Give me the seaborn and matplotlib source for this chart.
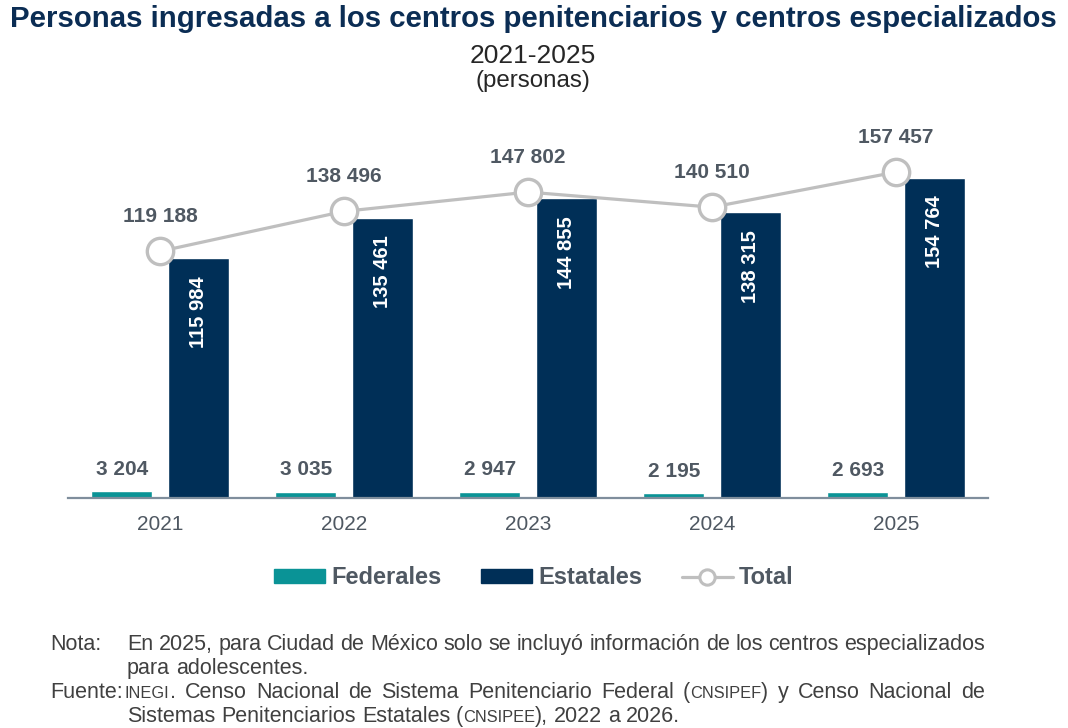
import matplotlib
matplotlib.use("Agg")
import matplotlib.pyplot as plt
import numpy as np
import pandas as pd
import seaborn as sns
from matplotlib.lines import Line2D
from matplotlib.patches import Patch

years = ["2021", "2022", "2023", "2024", "2025"]
federales = [3204, 3035, 2947, 2195, 2693]
estatales = [115984, 135461, 144855, 138315, 154764]
total = [119188, 138496, 147802, 140510, 157457]

series_names = ["Federales", "Estatales"]
series_colors = ["#0A9396", "#002F57"]
total_color = "#BFBFBF"
label_color = "#4F5862"
title_color = "#0B2D54"
note_color = "#404040"

sns.set_style("white")
plt.rcParams["font.family"] = ["Liberation Sans", "DejaVu Sans"]


def fmt(v):
    return f"{v:,}".replace(",", " ")


df = pd.DataFrame({
    "year": years * 2,
    "serie": [series_names[0]] * len(years) + [series_names[1]] * len(years),
    "value": federales + estatales,
})

fig = plt.figure(figsize=(10.68, 7.28), dpi=100)
ax = fig.add_axes([0.0637, 0.316, 0.8614, 0.533])

sns.barplot(data=df, x="year", y="value", hue="serie", order=years,
            hue_order=series_names, palette=series_colors, width=0.83,
            gap=0.2, saturation=1, legend=False, ax=ax, zorder=2)

xpos = np.arange(len(years))
sns.lineplot(x=xpos, y=total, color=total_color, linewidth=2.3, marker="o",
             markersize=19, markerfacecolor="white", markeredgecolor=total_color,
             markeredgewidth=2.4, zorder=5, ax=ax)

ax.set_xlim(-0.5, len(years) - 0.5)
ax.set_ylim(0, 187500)
ax.set_xlabel("")
ax.set_ylabel("")
ax.set_yticks([])
for s in ["top", "right", "left"]:
    ax.spines[s].set_visible(False)
ax.spines["bottom"].set_color("#7F8E9C")
ax.spines["bottom"].set_linewidth(1.6)
ax.spines["bottom"].set_zorder(6)
ax.tick_params(axis="x", length=0, pad=12, labelsize=15, labelcolor=label_color)

# value labels
for bar, v in zip(ax.containers[0], federales):
    cx = bar.get_x() + bar.get_width() / 2
    ax.annotate(fmt(v), (cx, bar.get_height()), xytext=(0, 12),
                textcoords="offset points", ha="center", va="baseline",
                fontsize=15, fontweight="bold", color=label_color)

for bar, v in zip(ax.containers[1], estatales):
    cx = bar.get_x() + bar.get_width() / 2
    ax.annotate(fmt(v), (cx, bar.get_height()), xytext=(0, -13),
                textcoords="offset points", ha="center", va="top",
                rotation=90, fontsize=14.5, fontweight="bold", color="white",
                zorder=4)

for x, v in zip(xpos, total):
    ax.annotate(fmt(v), (x, v), xytext=(0, 21), textcoords="offset points",
                ha="center", va="baseline", fontsize=15, fontweight="bold",
                color=label_color)

# titles
fig.text(0.499, 1 - 27 / 728, "Personas ingresadas a los centros penitenciarios y centros especializados",
         ha="center", va="baseline", fontsize=21.2, fontweight="bold", color=title_color)
fig.text(0.499, 1 - 63 / 728, "2021-2025", ha="center", va="baseline",
         fontsize=19, color="#262626")
fig.text(0.499, 1 - 87 / 728, "(personas)", ha="center", va="baseline",
         fontsize=17.4, color="#262626")

# legend
handles = [
    Patch(facecolor=series_colors[0], edgecolor=series_colors[0]),
    Patch(facecolor=series_colors[1], edgecolor=series_colors[1]),
    Line2D([], [], color=total_color, linewidth=2.3, marker="o", markersize=11,
           markerfacecolor="white", markeredgecolor=total_color, markeredgewidth=2.2),
]
leg = fig.legend(handles, ["Federales", "Estatales", "Total"], loc="center",
                 bbox_to_anchor=(0.5, 1 - 578 / 728), ncol=3, frameon=False,
                 prop={"size": 17, "weight": "bold"}, handlelength=2.16,
                 handleheight=0.5, handletextpad=0.28, columnspacing=1.65)
for t in leg.get_texts():
    t.set_color(label_color)

# footnotes: small caps pieces in a smaller size, justified lines
renderer = fig.canvas.get_renderer()
W, H = fig.bbox.width, fig.bbox.height
body = 15.5
small = 11.8


def text_width(s, size):
    t = fig.text(0, 0, s, fontsize=size)
    w = t.get_window_extent(renderer).width
    t.remove()
    return w


def line(x_px, y_px, pieces, end_px=None):
    tokens = []
    for txt, size in pieces:
        for i, word in enumerate(txt.split(" ")):
            if i > 0:
                tokens.append((None, size))
            if word:
                tokens.append((word, size))
    widths = []
    for word, size in tokens:
        if word is None:
            widths.append(text_width("x x", size) - text_width("xx", size))
        else:
            widths.append(text_width(word, size))
    n_spaces = sum(1 for w, _ in tokens if w is None)
    extra = 0
    if end_px is not None and n_spaces:
        extra = (end_px - x_px - sum(widths)) / n_spaces
    x = x_px
    for (word, size), w in zip(tokens, widths):
        if word is None:
            x += w + extra
            continue
        fig.text(x / W, 1 - y_px / H, word, ha="left", va="baseline",
                 fontsize=size, color=note_color)
        x += w


line(50, 650, [("Nota:", body)])
line(127, 650, [("En 2025, para Ciudad de México solo se incluyó información de los centros especializados", body)], end_px=985)
line(127, 674, [("para adolescentes.", body)])
line(50, 698, [("Fuente:", body)])
line(125, 698, [("INEGI", small), (". Censo Nacional de Sistema Penitenciario Federal (", body),
                ("CNSIPEF", small), (") y Censo Nacional de", body)], end_px=985)
line(127, 722, [("Sistemas Penitenciarios Estatales (", body), ("CNSIPEE", small),
                ("), 2022 a 2026.", body)])

fig.savefig("out.png", dpi=100)
